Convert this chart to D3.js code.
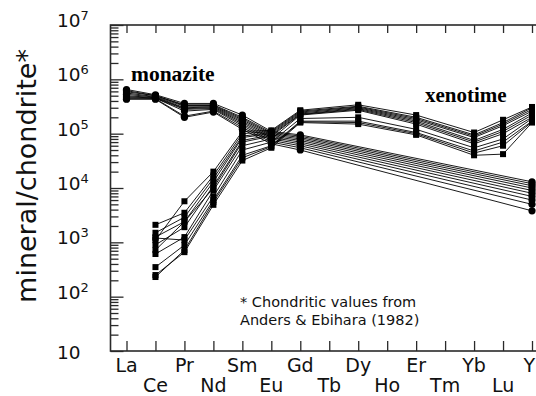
<!DOCTYPE html>
<html>
<head>
<meta charset="utf-8">
<script src="https://cdn.jsdelivr.net/npm/d3@7"></script>
<style>
  body { margin: 0; background: #fff; }
  svg { display: block; }
</style>
</head>
<body>
<div id="chart"></div>
<script>
// REE patterns, normalised to chondrite
const elements = ['La', 'Ce', 'Pr', 'Nd', 'Sm', 'Eu', 'Gd', 'Tb', 'Dy', 'Ho', 'Er', 'Tm', 'Yb', 'Lu', 'Y'];
const monaziteElements = ['La', 'Ce', 'Pr', 'Nd', 'Sm', 'Eu', 'Gd', 'Y'];
const xenotimeElements = ['Ce', 'Pr', 'Nd', 'Sm', 'Eu', 'Gd', 'Dy', 'Er', 'Yb', 'Lu', 'Y'];

const monaziteSamples = [
  [6.5e5, 5.2e5, 3.6e5, 3.6e5, 2.2e5, 1.10e5, 9.5e4, 1.3e4],
  [6.2e5, 5.0e5, 3.4e5, 3.4e5, 2.0e5, 1.05e5, 9.0e4, 1.2e4],
  [5.9e5, 5.0e5, 3.3e5, 3.3e5, 1.9e5, 1.00e5, 8.5e4, 1.1e4],
  [5.6e5, 4.8e5, 3.2e5, 3.2e5, 1.8e5, 9.5e4, 8.0e4, 1.0e4],
  [5.3e5, 4.7e5, 3.0e5, 3.1e5, 1.7e5, 9.0e4, 7.5e4, 9.0e3],
  [5.0e5, 4.6e5, 2.9e5, 3.0e5, 1.6e5, 8.5e4, 7.0e4, 8.0e3],
  [4.8e5, 4.5e5, 2.8e5, 2.9e5, 1.5e5, 8.0e4, 6.5e4, 7.0e3],
  [4.6e5, 4.5e5, 2.6e5, 2.8e5, 1.4e5, 7.5e4, 6.0e4, 6.0e3],
  [4.4e5, 4.4e5, 2.1e5, 2.6e5, 1.3e5, 7.0e4, 5.5e4, 5.0e3],
  [4.3e5, 4.3e5, 2.0e5, 2.5e5, 1.2e5, 6.5e4, 5.0e4, 3.8e3]
];

const xenotimeSamples = [
  [1.1e3, 5.7e3, 2.0e4, 1.10e5, 1.15e5, 2.7e5, 3.4e5, 2.2e5, 1.05e5, 1.8e5, 3.1e5],
  [2.1e3, 3.5e3, 1.7e4, 1.00e5, 1.10e5, 2.6e5, 3.2e5, 2.0e5, 9.5e4, 1.6e5, 3.0e5],
  [1.5e3, 2.9e3, 1.5e4, 9.0e4, 1.05e5, 2.5e5, 3.1e5, 1.9e5, 9.0e4, 1.5e5, 2.8e5],
  [1.25e3, 2.4e3, 1.3e4, 8.5e4, 1.00e5, 2.4e5, 3.0e5, 1.8e5, 8.5e4, 1.4e5, 2.6e5],
  [9.0e2, 1.9e3, 1.1e4, 7.5e4, 9.5e4, 2.3e5, 2.9e5, 1.7e5, 7.5e4, 1.2e5, 2.4e5],
  [7.2e2, 2.4e3, 1.0e4, 7.0e4, 9.0e4, 2.25e5, 2.8e5, 1.6e5, 7.0e4, 1.1e5, 2.2e5],
  [6.1e2, 1.25e3, 9.0e3, 6.0e4, 8.0e4, 2.2e5, 2.7e5, 1.5e5, 6.5e4, 1.0e5, 2.0e5],
  [1.2e3, 1.1e3, 7.0e3, 5.0e4, 7.0e4, 1.9e5, 2.0e5, 1.2e5, 5.5e4, 8.0e4, 1.9e5],
  [3.5e2, 8.9e2, 6.0e3, 4.0e4, 6.0e4, 1.7e5, 1.7e5, 1.05e5, 4.8e4, 7.0e4, 1.7e5],
  [2.5e2, 6.6e2, 4.9e3, 3.2e4, 5.5e4, 1.6e5, 1.5e5, 9.5e4, 4.0e4, 4.2e4, 1.6e5],
  [2.3e2, 7.2e2, 5.5e3, 3.6e4, 5.8e4, 1.65e5, 1.6e5, 1.0e5, 4.4e4, 6.0e4, 1.65e5]
];

const exponents = [1, 2, 3, 4, 5, 6, 7];

const width = 536, height = 396;
const plot = { left: 110.5, right: 547.5, top: 25, bottom: 351 };

const svg = d3.select('#chart').append('svg')
  .attr('width', width)
  .attr('height', height);

const x = d3.scalePoint().domain(elements).range([126.5, 532]);
const y = d3.scaleLog().domain([10, 1e7]).range([plot.bottom, plot.top]);

const axisColor = '#2a2a2a';

// minor and major tick values for the log axis
const majorTicks = exponents.map(e => Math.pow(10, e));
const minorTicks = [];
exponents.slice(0, -1).forEach(e => {
  for (let k = 2; k <= 9; k++) minorTicks.push(k * Math.pow(10, e));
});

const leftAxis = svg.append('g').attr('transform', `translate(${plot.left},0)`);
leftAxis.call(d3.axisRight(y).tickValues(minorTicks).tickSize(8).tickFormat(''));
leftAxis.append('g').call(d3.axisRight(y).tickValues(majorTicks).tickSize(13).tickFormat(''));

svg.append('g').attr('transform', `translate(0,${plot.bottom})`)
  .call(d3.axisTop(x).tickSize(10).tickFormat(''));
svg.append('g').attr('transform', `translate(0,${plot.top})`)
  .call(d3.axisBottom(x).tickSize(8).tickFormat(''));

svg.selectAll('.domain').remove();
svg.selectAll('.tick line').attr('stroke', axisColor).attr('stroke-width', 1.3);

// frame
svg.append('rect')
  .attr('x', plot.left).attr('y', plot.top)
  .attr('width', plot.right - plot.left).attr('height', plot.bottom - plot.top)
  .attr('fill', 'none').attr('stroke', axisColor).attr('stroke-width', 1.6);

// y tick labels
const yLabels = svg.append('g')
  .style('font-family', '"DejaVu Sans", sans-serif')
  .style('fill', '#111');
exponents.forEach(e => {
  const v = Math.pow(10, e);
  const t = yLabels.append('text')
    .attr('x', 57)
    .attr('y', e === 1 ? y(v) + 8 : y(v) + 2)
    .style('font-size', '18.5px');
  t.append('tspan').text('10');
  if (e > 1) {
    t.append('tspan').attr('dy', -7).style('font-size', '13px').text(e);
  }
});

// x category labels, alternating rows (last one kept inside the window)
const lastEl = elements[elements.length - 1];
svg.append('g')
  .selectAll('text')
  .data(elements)
  .join('text')
  .attr('x', d => d === lastEl ? width - 1 : x(d))
  .attr('y', (d, i) => i % 2 === 0 ? 372 : 392)
  .attr('text-anchor', d => d === lastEl ? 'end' : 'middle')
  .style('font-family', '"DejaVu Sans", sans-serif')
  .style('font-size', '19px')
  .style('fill', '#111')
  .text(d => d);

// y axis title
svg.append('text')
  .attr('transform', 'translate(36,176) rotate(-90)')
  .attr('text-anchor', 'middle')
  .style('font-family', '"DejaVu Sans", sans-serif')
  .style('font-size', '27px')
  .style('fill', '#111')
  .text('mineral/chondrite*');

// note
const note = svg.append('text')
  .style('font-family', '"DejaVu Sans", sans-serif')
  .style('font-size', '14.5px')
  .style('fill', '#111');
note.append('tspan').attr('x', 240).attr('y', 307).text('* Chondritic values from');
note.append('tspan').attr('x', 240).attr('y', 325).text('Anders & Ebihara (1982)');

// series
const line = d3.line()
  .x(d => x(d.el))
  .y(d => y(d.v));

const toPoints = (els, vals) => vals.map((v, i) => ({ el: els[i], v: v }));
const monazite = monaziteSamples.map(s => toPoints(monaziteElements, s));
const xenotime = xenotimeSamples.map(s => toPoints(xenotimeElements, s));

const lines = svg.append('g')
  .attr('fill', 'none')
  .attr('stroke', '#000')
  .attr('stroke-width', 0.9);
lines.selectAll('.mz').data(monazite).join('path').attr('class', 'mz').attr('d', line);
lines.selectAll('.xt').data(xenotime).join('path').attr('class', 'xt').attr('d', line);

svg.append('g')
  .selectAll('circle')
  .data(monazite.flat())
  .join('circle')
  .attr('cx', d => x(d.el))
  .attr('cy', d => y(d.v))
  .attr('r', 3.6)
  .attr('fill', '#000');

svg.append('g')
  .selectAll('rect')
  .data(xenotime.flat())
  .join('rect')
  .attr('x', d => x(d.el) - 3)
  .attr('y', d => y(d.v) - 3)
  .attr('width', 6)
  .attr('height', 6)
  .attr('fill', '#000');

// mineral labels
svg.append('text')
  .attr('x', 131).attr('y', 81)
  .style('font-family', '"Liberation Serif", "Times New Roman", serif')
  .style('font-weight', 'bold')
  .style('font-size', '21.5px')
  .text('monazite');

svg.append('text')
  .attr('x', 425).attr('y', 102)
  .style('font-family', '"Liberation Serif", "Times New Roman", serif')
  .style('font-weight', 'bold')
  .style('font-size', '21px')
  .text('xenotime');
</script>
</body>
</html>
